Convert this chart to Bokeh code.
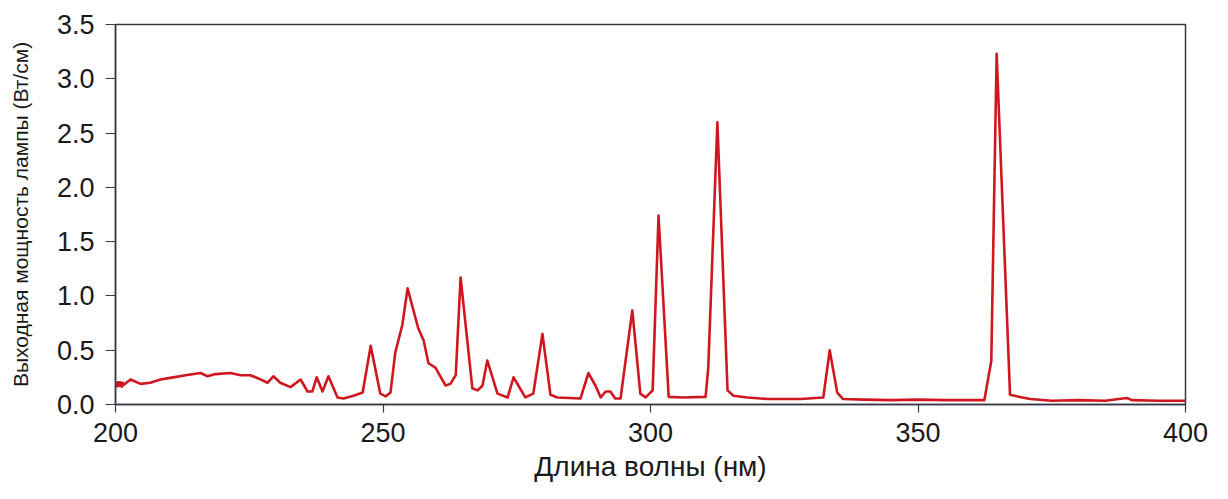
from bokeh.plotting import figure
from bokeh.models import Range1d, FixedTicker, ColumnDataSource, CDSView, BooleanFilter
from bokeh.embed import file_html
from bokeh.resources import INLINE

# Emission spectrum of the lamp: wavelength (nm) vs output power (W/cm)
wavelength = [200, 200.6, 201.5, 202.8, 204.7, 206.5, 208.4, 210.8, 213.1, 215.9,
              217.2, 218.7, 221.5, 223.4, 225.2, 226.7, 228.4, 229.5, 230.8, 232.7,
              234.6, 235.9, 236.8, 237.6, 238.7, 239.8, 241.5, 242.6, 244.5, 246.2,
              247.7, 249.5, 250.5, 251.4, 252.3, 253.6, 254.6, 256.6, 257.6, 258.5,
              259.8, 261.7, 262.6, 263.6, 264.5, 266.7, 267.7, 268.6, 269.5, 271.4,
              273.3, 274.4, 275.3, 276.6, 278.1, 279.8, 281.3, 282.6, 286.9, 288.4,
              289.7, 290.7, 291.6, 292.5, 293.4, 294.4, 296.6, 298.1, 299.1, 300.4,
              301.5, 303.4, 306.0, 310.3, 310.8, 312.5, 314.4, 315.5, 318.1, 322.0,
              328.0, 332.3, 333.5, 334.9, 336.0, 340.0, 345.0, 350.0, 355.0, 362.4,
              363.7, 364.7, 367.2, 369.0, 371.0, 375.0, 380.0, 385.0, 389.0, 390.0,
              395.0, 400.0]
power = [0.18, 0.19, 0.18, 0.23, 0.19, 0.20, 0.23, 0.25, 0.27, 0.29,
         0.26, 0.28, 0.29, 0.27, 0.27, 0.24, 0.20, 0.26, 0.20, 0.16,
         0.23, 0.12, 0.12, 0.25, 0.12, 0.26, 0.065, 0.055, 0.08, 0.11,
         0.54, 0.10, 0.075, 0.11, 0.48, 0.73, 1.07, 0.70, 0.59, 0.38,
         0.34, 0.175, 0.19, 0.27, 1.17, 0.15, 0.13, 0.175, 0.405, 0.10,
         0.065, 0.25, 0.175, 0.065, 0.10, 0.65, 0.09, 0.065, 0.055, 0.29,
         0.175, 0.065, 0.12, 0.12, 0.055, 0.055, 0.866, 0.10, 0.065, 0.13,
         1.74, 0.07, 0.065, 0.07, 0.34, 2.60, 0.13, 0.08, 0.065, 0.05,
         0.05, 0.065, 0.50, 0.11, 0.05, 0.045, 0.04, 0.045, 0.04, 0.04,
         0.40, 3.23, 0.09, 0.07, 0.05, 0.035, 0.04, 0.035, 0.06, 0.04,
         0.035, 0.035]

x_ticks = [200, 250, 300, 350, 400]
y_ticks = [0.0, 0.5, 1.0, 1.5, 2.0, 2.5, 3.0, 3.5]

x_title = "Длина волны (нм)"
y_title = "Выходная мощность лампы (Вт/см)"

FONT = "Liberation Sans"
AXIS_COLOR = "#3a3a44"
LINE_COLOR = "#d0171f"

p = figure(width=1228, height=499, output_backend="svg", toolbar_location=None,
           x_range=Range1d(200, 400), y_range=Range1d(0, 3.5),
           min_border_left=115, min_border_right=43, min_border_top=24,
           min_border_bottom=95)
p.background_fill_color = "white"
p.border_fill_color = "white"
p.outline_line_color = AXIS_COLOR
p.outline_line_width = 1.5
p.xgrid.visible = False
p.ygrid.visible = False

src = ColumnDataSource(dict(x=wavelength, y=power))
p.line("x", "y", source=src, line_color=LINE_COLOR, line_width=2.6,
       line_join="round")

# the noisy ends of the record are drawn heavier
tail = CDSView(filter=BooleanFilter([w >= 371 for w in wavelength]))
head = CDSView(filter=BooleanFilter([w <= 201.5 for w in wavelength]))
p.line("x", "y", source=src, view=tail, line_color=LINE_COLOR, line_width=6)
p.line("x", "y", source=src, view=head, line_color=LINE_COLOR, line_width=6)

p.xaxis.ticker = FixedTicker(ticks=x_ticks)
p.yaxis.ticker = FixedTicker(ticks=y_ticks)
p.yaxis.major_label_overrides = {t: f"{t:.1f}" for t in y_ticks}

for ax in (p.xaxis[0], p.yaxis[0]):
    ax.axis_line_color = AXIS_COLOR
    ax.axis_line_width = 1.5
    ax.major_tick_line_color = AXIS_COLOR
    ax.major_tick_line_width = 1.2
    ax.major_tick_in = 0
    ax.minor_tick_line_color = None
    ax.major_label_text_font = FONT
    ax.major_label_text_color = "#1a1a1a"
    ax.axis_label_text_font = FONT
    ax.axis_label_text_font_style = "normal"
    ax.axis_label_text_color = "#1a1a1a"

p.xaxis.major_tick_out = 8
p.xaxis.major_label_text_font_size = "27px"
p.xaxis.major_label_standoff = 10
p.xaxis.axis_label = x_title
p.xaxis.axis_label_text_font_size = "28px"
p.xaxis.axis_label_standoff = 6

p.yaxis.major_tick_out = 10
p.yaxis.major_label_text_font_size = "27px"
p.yaxis.major_label_standoff = 11
p.yaxis.axis_label = y_title
p.yaxis.axis_label_text_font_size = "21px"
p.yaxis.axis_label_standoff = 22

open("out.html", "w").write(file_html(p, INLINE))
